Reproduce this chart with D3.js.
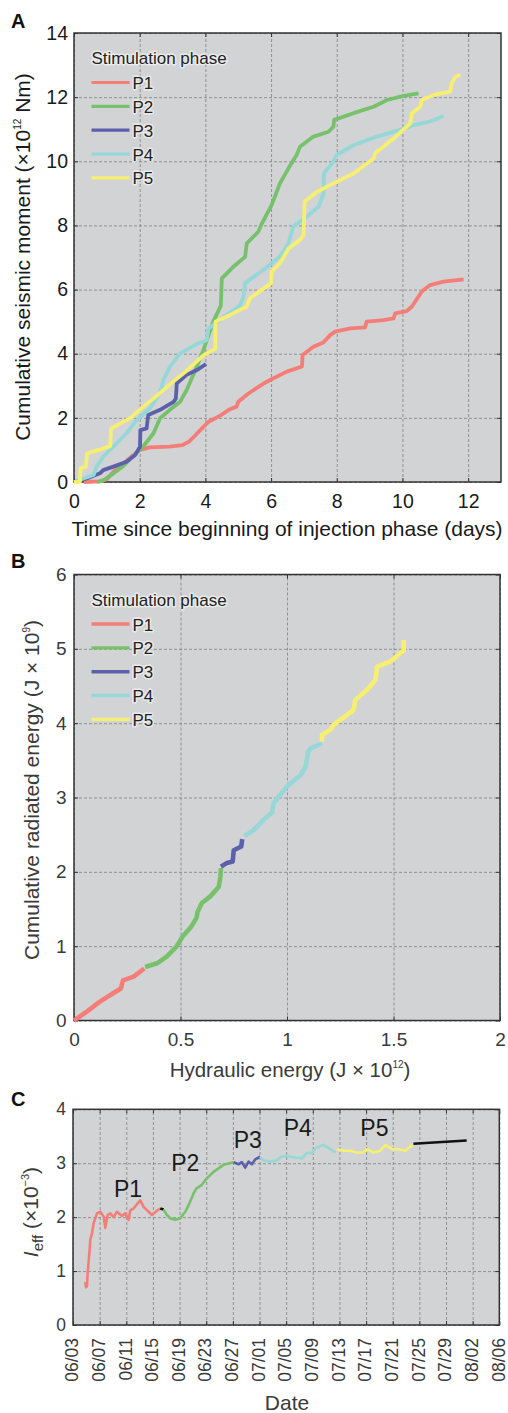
<!DOCTYPE html>
<html>
<head>
<meta charset="utf-8">
<script src="https://cdn.jsdelivr.net/npm/d3@7"></script>
<style>
  body { margin: 0; background: #fff; }
  svg { display: block; font-family: "Liberation Sans", Arial, sans-serif; }
  .grid line { stroke: #808080; stroke-width: 0.8; stroke-dasharray: 3,2; }
  .grid path, .ax path { display: none; }
  .ax line { stroke: #333; stroke-width: 1; }
</style>
</head>
<body>
<svg id="chart" width="508" height="1413"></svg>
<script>
// phases and colours
const phases = ['P1', 'P2', 'P3', 'P4', 'P5']
const phaseColors = ['#f47e77', '#78c16c', '#5c60ab', '#95d8d7', '#f6ef70']

// Panel A: cumulative seismic moment (x10^12 Nm) vs days since start of phase
const momentP1 = [[0.3,0],[0.8,0.02],[1.0,0.09],[1.2,0.32],[1.5,0.58],[1.81,0.84],[2.01,1.0],[2.31,1.08],[2.9,1.1],[3.3,1.15],[3.5,1.26],[3.69,1.45],[3.94,1.72],[4.1,1.88],[4.45,2.07],[4.75,2.27],[4.95,2.35],[5.0,2.5],[5.31,2.76],[5.77,3.07],[5.97,3.18],[6.48,3.44],[6.94,3.6],[6.96,3.96],[7.29,4.22],[7.59,4.35],[7.8,4.58],[7.95,4.69],[8.41,4.79],[8.86,4.82],[8.91,5.0],[9.42,5.05],[9.73,5.1],[9.78,5.26],[10.13,5.33],[10.29,5.47],[10.59,5.94],[10.84,6.14],[11.25,6.25],[11.86,6.32]]
const momentP2 = [[0.7,0],[0.9,0.05],[1.2,0.27],[1.5,0.5],[1.81,0.82],[2.1,1.1],[2.42,1.52],[2.62,1.99],[2.92,2.25],[3.23,2.5],[3.43,2.87],[3.74,3.6],[3.94,4.12],[4.24,5.0],[4.47,5.5],[4.5,6.35],[4.85,6.71],[5.21,7.02],[5.26,7.44],[5.61,7.8],[5.72,8.06],[6.02,8.64],[6.27,9.31],[6.53,9.78],[6.78,10.2],[6.88,10.45],[7.29,10.77],[7.75,10.92],[7.9,11.08],[7.92,11.29],[8.51,11.5],[9.12,11.7],[9.53,11.91],[10.03,12.04],[10.49,12.12]]
const momentP3 = [[0,0],[0.39,0.11],[0.79,0.27],[0.89,0.37],[1.2,0.48],[1.6,0.63],[1.86,0.84],[2.01,1.1],[2.02,1.62],[2.21,1.67],[2.26,2.09],[2.62,2.25],[3.03,2.5],[3.1,2.6],[3.13,3.08],[3.43,3.34],[3.74,3.49],[4.02,3.68]]
const momentP4 = [[0,0],[0.28,0.11],[0.6,0.22],[0.69,0.48],[0.89,0.79],[1.2,1.1],[1.6,1.52],[1.91,1.93],[2.31,2.3],[2.62,2.77],[2.72,3.18],[2.92,3.6],[3.23,4.01],[3.74,4.3],[4.04,4.42],[4.09,4.78],[4.55,5.14],[5.06,5.5],[5.16,5.78],[5.21,6.2],[5.77,6.62],[6.27,7.03],[6.53,7.45],[6.68,7.97],[7.09,8.28],[7.45,8.59],[7.6,9.0],[7.61,9.63],[7.86,9.94],[8.0,10.2],[8.51,10.5],[9.22,10.77],[9.93,10.98],[10.34,11.13],[10.84,11.24],[11.25,11.41]]
const momentP5 = [[0,0],[0.18,0],[0.2,0.43],[0.36,0.48],[0.4,0.89],[0.75,1.0],[1.1,1.12],[1.13,1.67],[1.71,1.99],[2.11,2.35],[2.62,2.77],[3.02,3.13],[3.43,3.47],[3.94,3.95],[4.3,4.15],[4.31,5.0],[4.75,5.21],[5.26,5.47],[5.36,5.73],[6.0,6.2],[6.02,6.56],[6.27,6.82],[6.53,7.28],[6.88,7.55],[6.99,7.7],[7.02,8.74],[7.4,9.05],[7.9,9.31],[8.51,9.62],[9.12,10.09],[9.17,10.25],[9.73,10.71],[10.24,11.18],[10.29,11.5],[10.54,11.7],[10.59,11.91],[10.95,12.07],[11.45,12.17],[11.5,12.43],[11.61,12.64],[11.76,12.69]]
const momentTicksX = [0, 2, 4, 6, 8, 10, 12]
const momentTicksY = [0, 2, 4, 6, 8, 10, 12, 14]

// Panel B: cumulative radiated energy (J x10^9) vs hydraulic energy (J x10^12)
const energyP1 = [[0,0],[0.06,0.12],[0.12,0.25],[0.18,0.36],[0.22,0.43],[0.23,0.54],[0.28,0.59],[0.33,0.70]]
const energyP2 = [[0.334,0.72],[0.39,0.77],[0.435,0.86],[0.48,0.99],[0.51,1.13],[0.55,1.26],[0.575,1.38],[0.58,1.46],[0.6,1.58],[0.64,1.67],[0.68,1.8],[0.687,1.93],[0.69,2.05]]
const energyP3 = [[0.69,2.07],[0.718,2.12],[0.745,2.14],[0.75,2.29],[0.785,2.34],[0.79,2.44]]
const energyP4 = [[0.80,2.48],[0.843,2.56],[0.89,2.7],[0.93,2.8],[0.937,2.92],[1.0,3.15],[1.063,3.3],[1.087,3.41],[1.1,3.62],[1.11,3.66],[1.164,3.73]]
const energyP5 = [[1.164,3.75],[1.164,3.84],[1.203,3.91],[1.22,3.98],[1.313,4.18],[1.32,4.31],[1.376,4.45],[1.415,4.58],[1.423,4.76],[1.486,4.83],[1.548,4.98],[1.548,5.12]]
const energyTicksX = [0, 0.5, 1, 1.5, 2]
const energyTicksY = [0, 1, 2, 3, 4, 5, 6]

// Panel C: I_eff (x10^-3), days counted from 06/03
const ieffP1 = [[1.85,0.80],[1.95,0.70],[2.1,0.72],[2.2,0.96],[2.5,1.4],[2.6,1.58],[2.85,1.70],[3.1,1.89],[3.6,2.07],[4.1,2.1],[4.6,2.01],[4.85,1.8],[5.2,2.04],[5.6,2.07],[6.1,2.0],[6.6,2.1],[7.35,2.02],[7.85,2.07],[8.35,1.95],[8.6,2.13],[9.1,2.16],[9.6,2.24],[10.1,2.31],[10.6,2.19],[11.35,2.1],[11.85,2.04],[12.6,2.12],[13.1,2.16]]
const ieffGap1 = [[13.1,2.16],[13.6,2.14]]
const ieffP2 = [[13.6,2.14],[14.1,2.04],[14.6,1.98],[15.35,1.95],[16.1,1.98],[16.85,2.1],[17.35,2.22],[18.1,2.44],[18.5,2.53],[19.35,2.6],[20.1,2.72],[21.1,2.84],[22.6,2.97],[24.1,3.02]]
const ieffP3 = [[24.1,3.02],[24.85,2.98],[25.35,3.02],[25.85,2.92],[26.35,3.03],[26.85,2.98],[27.35,3.07],[28.1,3.12]]
const ieffP4 = [[28.1,3.12],[28.6,3.05],[29.6,3.03],[30.6,3.05],[31.1,3.11],[32.1,3.14],[33.1,3.11],[34.4,3.09],[35.1,3.19],[35.9,3.19],[36.4,3.28],[37.6,3.34],[38.4,3.28],[39.4,3.2]]
const ieffP5 = [[39.6,3.26],[40.6,3.23],[41.6,3.23],[42.6,3.2],[43.6,3.2],[44.1,3.26],[45.1,3.2],[46.1,3.23],[46.9,3.34],[47.9,3.26],[48.9,3.26],[49.9,3.23],[51.1,3.36]]
const ieffAfter = [[51.1,3.36],[59.1,3.42]]
const dateTicks = ['06/03','06/07','06/11','06/15','06/19','06/23','06/27','07/01','07/05','07/09','07/13','07/17','07/21','07/25','07/29','08/02','08/06']
const ieffTicksY = [0, 1, 2, 3, 4]
const labelDays = [8.25, 16.85, 26.25, 33.75, 45.25]
const labelLevels = [2.38, 2.86, 3.28, 3.51, 3.51]

const svg = d3.select('#chart')
const parseDay = d3.timeParse('%Y/%m/%d')
const day0 = parseDay('2018/06/03')
const toDate = d => new Date(day0.getTime() + d * 864e5)

// background, grid, inward ticks on all four sides, box
function frame(x, y, xTicks, yTicks, opt) {
  const [x0, x1] = x.range()
  const [yb, yt] = y.range()
  const g = svg.append('g')
  g.append('rect').attr('x', x0).attr('y', yt).attr('width', x1 - x0).attr('height', yb - yt).attr('fill', '#d2d3d5')
  g.append('g').attr('class', 'grid').attr('transform', `translate(0,${yb})`)
    .call(d3.axisBottom(x).tickValues(xTicks).tickSize(-(yb - yt)).tickFormat(''))
  g.append('g').attr('class', 'grid').attr('transform', `translate(${x0},0)`)
    .call(d3.axisLeft(y).tickValues(yTicks).tickSize(-(x1 - x0)).tickFormat(''))
  const bottom = g.append('g').attr('class', 'ax').attr('transform', `translate(0,${yb})`)
    .call(d3.axisBottom(x).tickValues(xTicks).tickSize(-4).tickPadding(opt.padX).tickFormat(opt.fmtX))
  g.append('g').attr('class', 'ax').attr('transform', `translate(0,${yt})`)
    .call(d3.axisTop(x).tickValues(xTicks).tickSize(-4).tickFormat(''))
  g.append('g').attr('class', 'ax').attr('transform', `translate(${x0},0)`)
    .call(d3.axisLeft(y).tickValues(yTicks).tickSize(-4).tickPadding(opt.padY).tickFormat(opt.fmtY))
  g.append('g').attr('class', 'ax').attr('transform', `translate(${x1},0)`)
    .call(d3.axisRight(y).tickValues(yTicks).tickSize(-4).tickFormat(''))
  g.selectAll('.ax text').attr('font-family', null).attr('font-size', opt.tickSize).attr('fill', opt.textColor)
  g.append('rect').attr('x', x0).attr('y', yt).attr('width', x1 - x0).attr('height', yb - yt)
    .attr('fill', 'none').attr('stroke', '#333').attr('stroke-width', 1.5)
  return bottom
}

function legend(x0, yTop, width) {
  const g = svg.append('g')
  const halo = s => s.attr('stroke', '#fff').attr('stroke-width', 3).attr('stroke-opacity', 0.55)
    .attr('stroke-linejoin', 'round').attr('paint-order', 'stroke')
  g.append('text').attr('x', x0).attr('y', yTop + 31).attr('font-size', 17).attr('fill', '#222')
    .text('Stimulation phase').call(halo)
  phases.forEach((p, i) => {
    const yy = yTop + 49.5 + i * 23.85
    g.append('line').attr('x1', x0).attr('x2', x0 + 38).attr('y1', yy).attr('y2', yy)
      .attr('stroke', phaseColors[i]).attr('stroke-width', width)
    g.append('text').attr('x', x0 + 41).attr('y', yy + 6.5).attr('font-size', 17).attr('fill', '#222')
      .text(p).call(halo)
  })
}

function series(lists, colors, x, y, width, mapX) {
  const line = d3.line().x(d => x(mapX(d[0]))).y(d => y(d[1]))
  lists.forEach((pts, i) => {
    svg.append('path').datum(pts).attr('d', line).attr('fill', 'none')
      .attr('stroke', colors[i]).attr('stroke-width', width)
      .attr('stroke-linejoin', 'round').attr('stroke-linecap', 'butt')
  })
}

function panelLetter(t, yy) {
  svg.append('text').attr('x', 11).attr('y', yy).attr('font-size', 20).attr('font-weight', 'bold')
    .attr('fill', '#111').text(t)
}

// ---------- Panel A ----------
const xA = d3.scaleLinear().domain([0, 13]).range([74, 501])
const yA = d3.scaleLinear().domain([0, 14]).range([482, 33])
frame(xA, yA, momentTicksX, momentTicksY, {padX: 12, padY: 6, tickSize: 19.5, textColor: '#1a1a1a', fmtX: d3.format('d'), fmtY: d3.format('d')})
series([momentP1, momentP2, momentP3, momentP4, momentP5], phaseColors, xA, yA, 3.8, d => d)
legend(91.5, 33, 3.2)
svg.append('text').attr('x', 287).attr('y', 536).attr('text-anchor', 'middle').attr('font-size', 21)
  .attr('fill', '#1a1a1a').text('Time since beginning of injection phase (days)')
const tA = svg.append('text').attr('transform', 'translate(30,257) rotate(-90)').attr('text-anchor', 'middle')
  .attr('font-size', 21).attr('fill', '#1a1a1a')
tA.append('tspan').text('Cumulative seismic moment (×10')
tA.append('tspan').attr('font-size', 10).attr('dy', -9).text('12')
tA.append('tspan').attr('dy', 9).text(' Nm)')
panelLetter('A', 28)

// ---------- Panel B ----------
const xB = d3.scaleLinear().domain([0, 2]).range([74, 500])
const yB = d3.scaleLinear().domain([0, 6]).range([1020.5, 574.5])
frame(xB, yB, energyTicksX, energyTicksY, {padX: 12, padY: 7.5, tickSize: 19, textColor: '#3a3a3a', fmtX: d3.format('~g'), fmtY: d3.format('d')})
series([energyP1, energyP2, energyP3, energyP4, energyP5], phaseColors, xB, yB, 4.6, d => d)
legend(91.5, 574.5, 3.4)
const tBx = svg.append('text').attr('x', 290).attr('y', 1076.5).attr('text-anchor', 'middle')
  .attr('font-size', 20.5).attr('fill', '#3a3a3a')
tBx.append('tspan').text('Hydraulic energy (J × 10')
tBx.append('tspan').attr('font-size', 10).attr('dy', -9).text('12')
tBx.append('tspan').attr('dy', 9).text(')')
const tBy = svg.append('text').attr('transform', 'translate(39,790) rotate(-90)').attr('text-anchor', 'middle')
  .attr('font-size', 21).attr('fill', '#3a3a3a')
tBy.append('tspan').text('Cumulative radiated energy (J × 10')
tBy.append('tspan').attr('font-size', 10).attr('dy', -9).text('9')
tBy.append('tspan').attr('dy', 9).text(')')
panelLetter('B', 568)

// ---------- Panel C ----------
const dateTickValues = dateTicks.map(s => parseDay('2018/' + s))
const xC = d3.scaleTime().domain([dateTickValues[0], dateTickValues[dateTickValues.length - 1]]).range([73, 499.3])
const yC = d3.scaleLinear().domain([0, 4]).range([1325, 1109.3])
const axC = frame(xC, yC, dateTickValues, ieffTicksY, {padX: 13, padY: 7, tickSize: 17.5, textColor: '#3a3a3a', fmtX: d3.timeFormat('%m/%d'), fmtY: d3.format('d')})
axC.selectAll('text').attr('transform', 'rotate(-90)').attr('text-anchor', 'end')
  .attr('x', -13).attr('y', 0).attr('dy', '0.27em')
series([ieffP1, ieffGap1, ieffP2, ieffP3, ieffP4, ieffP5, ieffAfter],
  [phaseColors[0], '#111', phaseColors[1], phaseColors[2], phaseColors[3], phaseColors[4], '#111'],
  xC, yC, 2.6, toDate)
phases.forEach((p, i) => {
  svg.append('text').attr('x', xC(toDate(labelDays[i]))).attr('y', yC(labelLevels[i]))
    .attr('text-anchor', 'middle').attr('font-size', 23).attr('fill', '#1a1a1a').text(p)
})
svg.append('text').attr('x', 287).attr('y', 1410).attr('text-anchor', 'middle').attr('font-size', 21)
  .attr('fill', '#3a3a3a').text('Date')
const tCy = svg.append('text').attr('transform', 'translate(38,1212) rotate(-90)').attr('text-anchor', 'middle')
  .attr('font-size', 21).attr('fill', '#3a3a3a')
tCy.append('tspan').attr('font-style', 'italic').text('I')
tCy.append('tspan').attr('font-size', 15).attr('dy', 5).text('eff')
tCy.append('tspan').attr('dy', -5).text(' (×10')
tCy.append('tspan').attr('font-size', 11).attr('dy', -9).text('−3')
tCy.append('tspan').attr('dy', 9).text(')')
panelLetter('C', 1106)
</script>
</body>
</html>
